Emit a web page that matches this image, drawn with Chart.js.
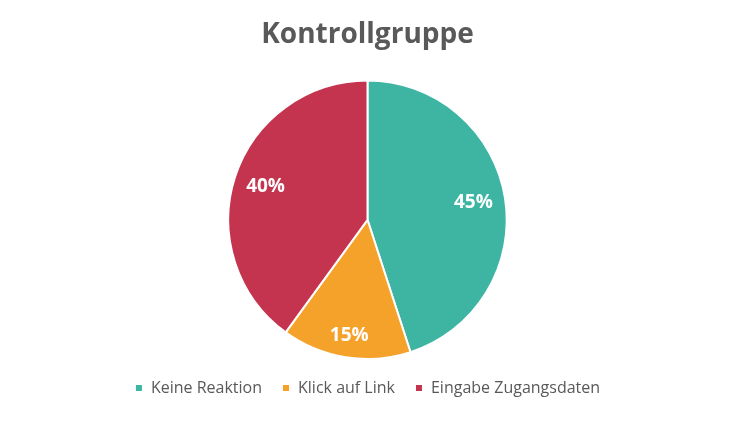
<!DOCTYPE html>
<html>
<head>
<meta charset="utf-8">
<script src="https://cdn.jsdelivr.net/npm/chart.js@4"></script>
<style>
  html, body { margin: 0; padding: 0; background: #fff; }
  #wrap { width: 735px; height: 429px; }
</style>
</head>
<body>
<div id="wrap"><canvas id="pie"></canvas></div>
<script>
const categories = ["Keine Reaktion", "Klick auf Link", "Eingabe Zugangsdaten"];
const shares = [45, 15, 40];
const sliceColors = ["#3db5a2", "#f5a22b", "#c4344f"];

// percentage labels inside the slices
const sliceLabels = {
  id: "sliceLabels",
  afterDatasetsDraw(chart) {
    const ctx = chart.ctx;
    const meta = chart.getDatasetMeta(0);
    ctx.save();
    ctx.font = "bold 19px 'Open Sans'";
    ctx.fillStyle = "#fff";
    ctx.textAlign = "center";
    ctx.textBaseline = "middle";
    meta.data.forEach((arc, i) => {
      const mid = (arc.startAngle + arc.endAngle) / 2;
      const f = shares[i] < 20 ? 0.84 : 0.77;
      const x = arc.x + Math.cos(mid) * arc.outerRadius * f;
      const y = arc.y + Math.sin(mid) * arc.outerRadius * f;
      ctx.fillText(shares[i] + "%", x, y);
    });
    ctx.restore();
  }
};

new Chart(document.getElementById("pie"), {
  type: "pie",
  data: {
    labels: categories,
    datasets: [{
      data: shares,
      backgroundColor: sliceColors,
      borderColor: "#fff",
      borderWidth: 2
    }]
  },
  options: {
    responsive: true,
    maintainAspectRatio: false,
    animation: false,
    layout: { padding: { bottom: 23 } },
    plugins: {
      title: {
        display: true,
        text: "Kontrollgruppe",
        color: "#595959",
        font: { family: "'Open Sans'", size: 28, weight: "bold" },
        padding: { top: 18, bottom: 28 }
      },
      legend: {
        position: "bottom",
        labels: {
          color: "#595959",
          font: { family: "'Open Sans'", size: 16 },
          boxWidth: 8,
          boxHeight: 8,
          padding: 20
        }
      },
      tooltip: { enabled: false }
    }
  },
  plugins: [sliceLabels]
});
</script>
</body>
</html>
